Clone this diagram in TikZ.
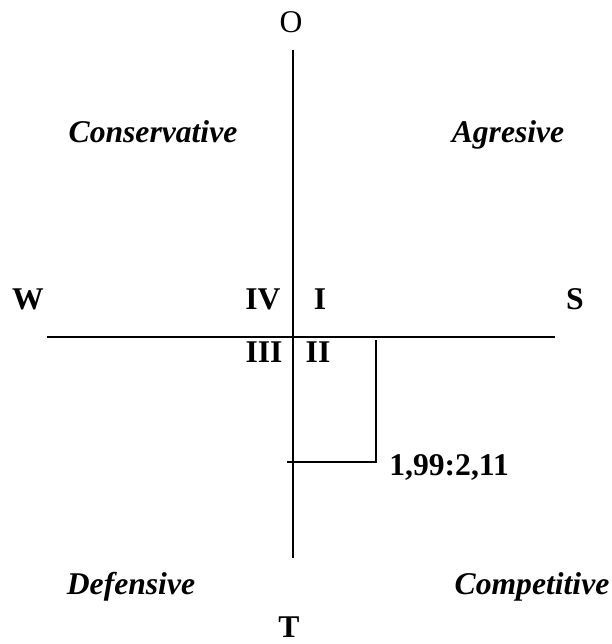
\documentclass[tikz,border=0pt]{standalone}
\usepackage{fontspec}
\setmainfont{Liberation Serif}
\usepackage{tikz}
\usetikzlibrary{positioning}
\tikzset{
  axis/.style={line width=1.1pt, color=black},
  pole/.style={font=\fontsize{18}{21}\selectfont\bfseries, anchor=base, inner sep=0pt},
  quad/.style={font=\fontsize{18}{21}\selectfont\bfseries, anchor=base, inner sep=0pt},
  strat/.style={font=\fontsize{18}{21}\selectfont\bfseries\itshape, anchor=base, inner sep=0pt}
}
\begin{document}
\begin{tikzpicture}[x=0.02cm, y=-0.02cm]
  \useasboundingbox (0,0) rectangle (611,644);
  % axes
  \coordinate (top) at (293,50);
  \coordinate (bottom) at (293,558);
  \coordinate (left) at (47,337);
  \coordinate (right) at (555,337);
  \draw[axis] (top) -- (bottom);
  \draw[axis] (left) -- (right);

  % poles
  \node[pole, font=\fontsize{18}{21}\selectfont] (o) at (291,33) {O};
  \node[pole] (w) at (28,310) {W};
  \node[pole] (s) at (575,310) {S};
  \node[pole] (t) at (289,637) {T};

  % quadrants
  \node[quad] (q4) at (263,310) {IV};
  \node[quad] (q1) at (320,310) {I};
  \node[quad] (q3) at (264,362) {III};
  \node[quad] (q2) at (318,362) {II};

  % strategies
  \node[strat] (cons) at (153,143) {Conservative};
  \node[strat] (agr) at (508,143) {Agresive};
  \node[strat] (def) at (131,594) {Defensive};
  \node[strat] (comp) at (532,594) {Competitive};

  % position of the firm
  \coordinate (ptop) at (376,340);
  \coordinate (pt) at (376,462);
  \coordinate (pleft) at (287,462);
  \draw[axis] (ptop) -- (pt) -- (pleft);
  \node[quad, anchor=base west] (val) at (389,475) {1,99:2,11};
\end{tikzpicture}
\end{document}
